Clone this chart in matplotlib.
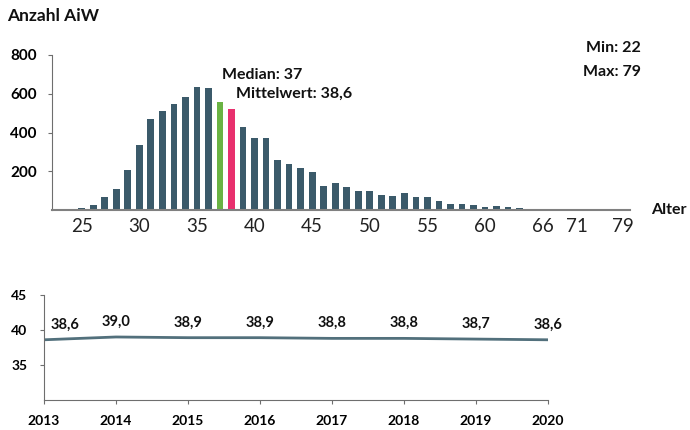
import math
import matplotlib
matplotlib.use('Agg')
import matplotlib.pyplot as plt

plt.rcParams['font.family'] = ['Lato', 'DejaVu Sans']

# === DATA: Altersverteilung ===
ages = list(range(22, 64))
counts = [1, 1, 2, 8, 26, 67, 106, 206, 338, 472, 513, 549, 584, 635, 630,
          560, 519, 426, 374, 374, 258, 240, 218, 194, 125, 137, 118, 96, 96,
          79, 72, 86, 69, 67, 48, 31, 31, 26, 15, 21, 15, 8]
median_age = 37
mean_age = 38.6
min_age = 22
max_age = 79

tick_ages = [25, 30, 35, 40, 45, 50, 55, 60]
tail_labels = ['66', '71', '79']
tail_pos = [65, 68, 72]

# === DATA: Durchschnittsalter pro Jahr ===
years = [2013, 2014, 2015, 2016, 2017, 2018, 2019, 2020]
avg_age = [38.6, 39.0, 38.9, 38.9, 38.8, 38.8, 38.7, 38.6]

BAR_COLOR = '#3b5a6a'
MEDIAN_COLOR = '#6ab344'
MEAN_COLOR = '#e8306e'
LINE_COLOR = '#52707c'
AXIS_COLOR = '#6e6e6e'
TEXT_COLOR = '#111111'

fig = plt.figure(figsize=(6.9, 4.3), dpi=100)

# === HISTOGRAM ===
ax = fig.add_axes([0.0754, 0.5116, 0.8377, 0.3605])
colors = []
for a in ages:
    if a == median_age:
        colors.append(MEDIAN_COLOR)
    elif a == math.floor(mean_age):
        colors.append(MEAN_COLOR)
    else:
        colors.append(BAR_COLOR)
ax.bar(ages, counts, width=0.58, color=colors)

ax.set_xlim(22.43, 72.58)
ax.set_ylim(0, 800)
ax.set_yticks([200, 400, 600, 800])
ax.set_xticks(tick_ages + tail_pos)
ax.set_xticklabels([str(a) for a in tick_ages] + tail_labels)
ax.tick_params(axis='x', length=0, pad=6, labelsize=13.5, colors='#222222')
ax.tick_params(axis='y', length=3, pad=8, labelsize=11, color=AXIS_COLOR)
for lbl in ax.get_yticklabels():
    lbl.set_fontweight('bold')
for s in ['top', 'right']:
    ax.spines[s].set_visible(False)
ax.spines['left'].set_color(AXIS_COLOR)
ax.spines['bottom'].set_color('#808080')
ax.spines['bottom'].set_linewidth(1.5)

fig.text(7 / 690, 1 - 16 / 430, 'Anzahl AiW', fontsize=12.5, fontweight='bold',
         va='center', ha='left', color=TEXT_COLOR)
fig.text(222 / 690, 1 - 75 / 430, f'Median: {median_age}', fontsize=11.5,
         fontweight='bold', va='center', ha='left', color=TEXT_COLOR)
fig.text(236 / 690, 1 - 94 / 430, f'Mittelwert: {str(mean_age).replace(".", ",")}',
         fontsize=11.5, fontweight='bold', va='center', ha='left', color=TEXT_COLOR)
fig.text(641 / 690, 1 - 48 / 430, f'Min: {min_age}', fontsize=11.5,
         fontweight='bold', va='center', ha='right', color=TEXT_COLOR)
fig.text(641 / 690, 1 - 72 / 430, f'Max: {max_age}', fontsize=11.5,
         fontweight='bold', va='center', ha='right', color=TEXT_COLOR)
fig.text(651 / 690, 1 - 210 / 430, 'Alter', fontsize=11.5, fontweight='bold',
         va='center', ha='left', color=TEXT_COLOR)

# === AVERAGE AGE LINE ===
ax2 = fig.add_axes([0.0638, 0.0698, 0.7304, 0.2442])
ax2.plot(years, avg_age, color=LINE_COLOR, linewidth=2.0, solid_capstyle='round')
ax2.set_xlim(2013, 2020)
ax2.set_ylim(30, 45)
ax2.set_yticks([35, 40, 45])
ax2.set_xticks(years)
ax2.tick_params(axis='both', length=3, color=AXIS_COLOR, labelsize=10)
ax2.tick_params(axis='x', pad=8)
ax2.tick_params(axis='y', pad=9)
for lbl in ax2.get_xticklabels() + ax2.get_yticklabels():
    lbl.set_fontweight('bold')
for s in ['top', 'right']:
    ax2.spines[s].set_visible(False)
ax2.spines['left'].set_color(AXIS_COLOR)
ax2.spines['bottom'].set_color(AXIS_COLOR)

for i, (yr, v) in enumerate(zip(years, avg_age)):
    dx = 15 if i == 0 else 0
    ax2.annotate(f'{v:.1f}'.replace('.', ','), (yr, v), xytext=(dx, 11),
                 textcoords='offset points', ha='center', va='center',
                 fontsize=10.5, fontweight='bold', color=TEXT_COLOR)

fig.savefig('out.png', dpi=100)
